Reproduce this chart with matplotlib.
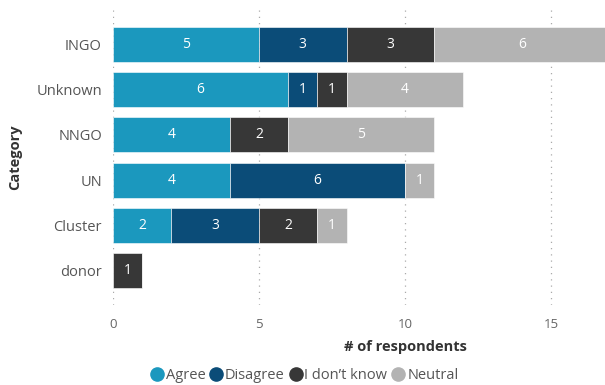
import matplotlib.pyplot as plt
from matplotlib.lines import Line2D
import numpy as np

plt.rcParams['font.family'] = ['Open Sans', 'DejaVu Sans']

categories = ['INGO', 'Unknown', 'NNGO', 'UN', 'Cluster', 'donor']
series = ['Agree', 'Disagree', 'I don\u2019t know', 'Neutral']
agree = [5, 6, 4, 4, 2, 0]
disagree = [3, 1, 0, 6, 3, 0]
dont_know = [3, 1, 2, 0, 2, 1]
neutral = [6, 4, 5, 1, 1, 0]
colors = ['#1b98be', '#0b4c78', '#373737', '#b3b3b3']

values = [agree, disagree, dont_know, neutral]

fig = plt.figure(figsize=(6.05, 3.85), dpi=100)
# axes runs past the right edge like the cropped original
ax = fig.add_axes([113/605, 80/385, 584/605, 295/385])

y = np.arange(len(categories))
left = np.zeros(len(categories))
for vals, c in zip(values, colors):
    vals = np.array(vals)
    bars = ax.barh(y, vals, left=left, height=0.77, color=c,
                   edgecolor='white', linewidth=0.4, zorder=3)
    for b, v in zip(bars, vals):
        if v > 0:
            ax.text(b.get_x() + b.get_width()/2, b.get_y() + b.get_height()/2,
                    str(v), ha='center', va='center', color='white',
                    fontsize=10, zorder=4)
    left += vals

ax.set_xlim(0, 20)
ax.set_ylim(5.75, -0.75)
ax.set_xticks([0, 5, 10, 15])
ax.set_yticks(y)
ax.set_yticklabels(categories)
ax.tick_params(axis='y', length=0, pad=8, labelsize=10.5, labelcolor='#555555')
ax.tick_params(axis='x', length=0, pad=9, labelsize=9.5, labelcolor='#666666')
ax.grid(axis='x', linestyle=(0, (1, 4)), color='#aaaaaa', linewidth=0.9, zorder=0)
for s in ax.spines.values():
    s.set_visible(False)

ax.set_xlabel('# of respondents', fontsize=10.5, fontweight='bold',
              color='#333333', labelpad=7)
ax.set_ylabel('Category', fontsize=10.5, fontweight='bold', color='#333333',
              labelpad=10)

handles = [Line2D([], [], marker='o', linestyle='', markersize=9.5,
                  markerfacecolor=c, markeredgecolor=c) for c in colors]
fig.legend(handles, series, loc='center', bbox_to_anchor=(0.503, 0.025),
           ncol=4, frameon=False, fontsize=10.5, labelcolor='#555555',
           handletextpad=0.15, columnspacing=0.3, handlelength=0.9)

fig.savefig('out.png', dpi=100)
